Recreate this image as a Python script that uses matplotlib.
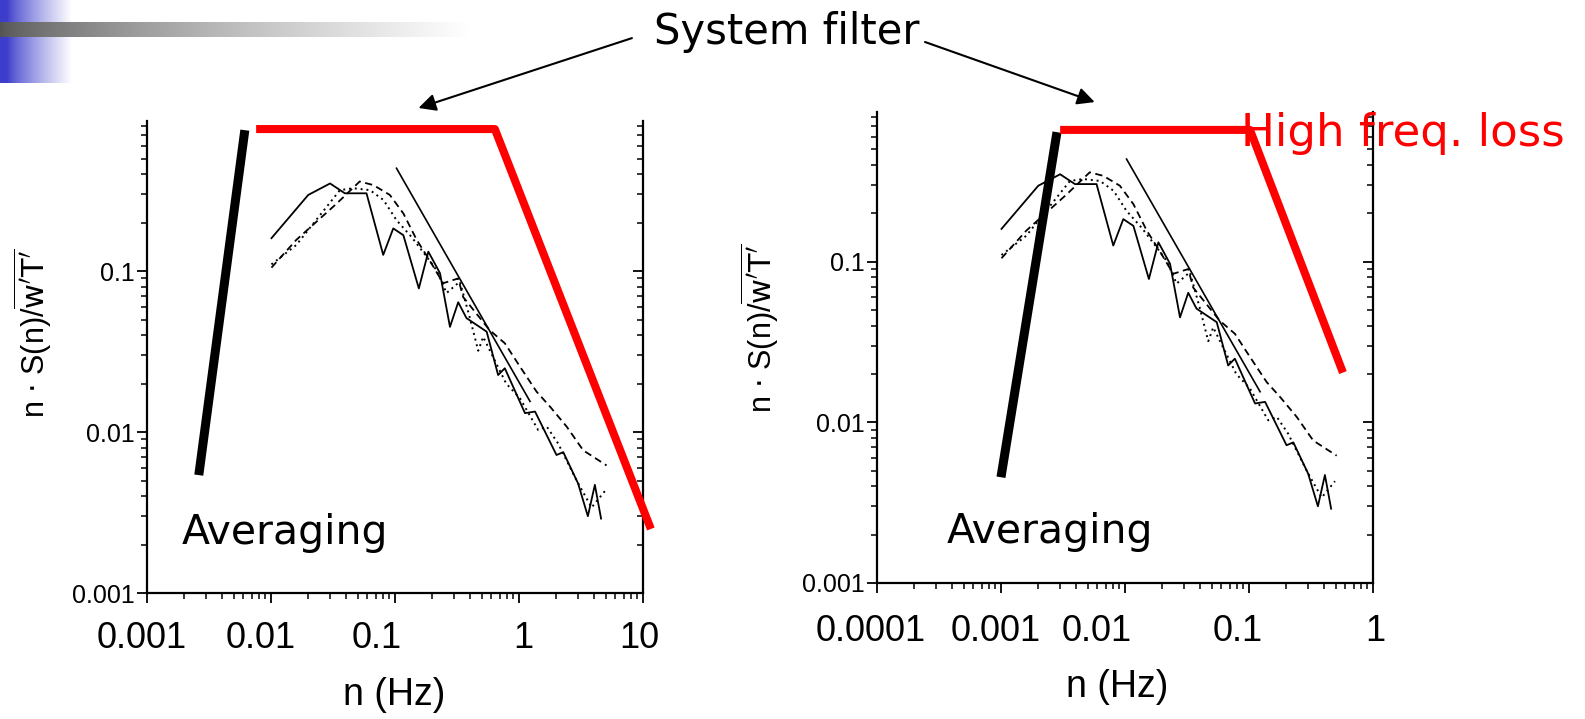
import matplotlib
matplotlib.use("Agg")
import matplotlib.pyplot as plt
import numpy as np
from matplotlib import font_manager
from matplotlib.ticker import LogLocator, NullFormatter, FixedLocator
from matplotlib.transforms import blended_transform_factory, ScaledTranslation

# ---- spectra (n in Hz, n*S(n)/w'T') ----
freq_solid = [0.0101, 0.020, 0.030, 0.0395, 0.059, 0.0805, 0.097, 0.117, 0.156, 0.186,
              0.231, 0.278, 0.324, 0.378, 0.55, 0.68, 0.77, 1.12, 1.35, 2.01,
              2.28, 3.0, 3.6, 4.1, 4.6]
spec_solid = [0.16, 0.297, 0.35, 0.304, 0.304, 0.126, 0.184, 0.167, 0.078, 0.132,
              0.097, 0.045, 0.064, 0.051, 0.042, 0.0226, 0.0249, 0.0131, 0.0134, 0.0072,
              0.0075, 0.0048, 0.0030, 0.0047, 0.0029]

freq_dash = [0.0101, 0.016, 0.034, 0.052, 0.067, 0.091, 0.117, 0.15, 0.19, 0.245,
             0.324, 0.355, 0.58, 0.77, 1.02, 1.39, 1.78, 2.43, 3.3, 5.1]
spec_dash = [0.105, 0.156, 0.263, 0.36, 0.342, 0.297, 0.228, 0.156, 0.117, 0.084,
             0.09, 0.069, 0.043, 0.0356, 0.0255, 0.0178, 0.0144, 0.0108, 0.0077, 0.0062]

freq_dot = [0.0101, 0.016, 0.036, 0.046, 0.063, 0.081, 0.103, 0.136, 0.18, 0.217,
            0.261, 0.334, 0.40, 0.47, 0.515, 0.79, 1.02, 1.43, 1.68, 2.07,
            2.92, 3.86, 4.94]
spec_dot = [0.11, 0.145, 0.318, 0.327, 0.318, 0.276, 0.207, 0.163, 0.123, 0.101,
            0.073, 0.086, 0.052, 0.032, 0.039, 0.020, 0.0162, 0.0103, 0.0108, 0.0085,
            0.005, 0.0034, 0.0043]

ref_freq = [0.103, 1.23]
ref_spec = [0.435, 0.0155]

# ---- same spectra on the right panel, frequency axis one decade lower ----
freq_solid_r = [0.00101, 0.0020, 0.0030, 0.00395, 0.0059, 0.00805, 0.0097, 0.0117, 0.0156, 0.0186,
                0.0231, 0.0278, 0.0324, 0.0378, 0.055, 0.068, 0.077, 0.112, 0.135, 0.201,
                0.228, 0.30, 0.36, 0.41, 0.46]
freq_dash_r = [0.00101, 0.0016, 0.0034, 0.0052, 0.0067, 0.0091, 0.0117, 0.015, 0.019, 0.0245,
               0.0324, 0.0355, 0.058, 0.077, 0.102, 0.139, 0.178, 0.243, 0.33, 0.51]
freq_dot_r = [0.00101, 0.0016, 0.0036, 0.0046, 0.0063, 0.0081, 0.0103, 0.0136, 0.018, 0.0217,
              0.0261, 0.0334, 0.040, 0.047, 0.0515, 0.079, 0.102, 0.143, 0.168, 0.207,
              0.292, 0.386, 0.494]
ref_freq_r = [0.0103, 0.123]

# ---- overlay sketch lines (averaging / system filter) ----
avg_left_n = [0.00262, 0.00616]
avg_left_s = [0.0054, 0.75]
filt_left_n = [0.0076, 0.64, 11.6]
filt_left_s = [0.762, 0.762, 0.0025]

avg_right_n = [0.001, 0.00283]
avg_right_s = [0.00455, 0.64]
filt_right_n = [0.003, 0.102, 0.573]
filt_right_s = [0.661, 0.661, 0.0204]

xticks_left = [0.001, 0.01, 0.1, 1, 10]
xlabels_left = ["0.001", "0.01", "0.1", "1", "10"]
xticks_right = [0.0001, 0.001, 0.01, 0.1, 1]
xlabels_right = ["0.0001", "0.001", "0.01", "0.1", "1"]
yticks = [0.001, 0.01, 0.1]
ylabels = ["0.001", "0.01", "0.1"]

# hand-placed tick labels on the slide sit a little off the ticks (pixels)
xlabel_shift_left = [-5, -10, -18, 4, -4]
xlabel_shift_right = [-6, -5, -28, -11, 2]

names = {f.name for f in font_manager.fontManager.ttflist}
narrow = "Liberation Sans Narrow" if "Liberation Sans Narrow" in names else "Liberation Sans"
big_size = 33 if narrow == "Liberation Sans Narrow" else 26
slide_font = "DejaVu Sans"

fig = plt.figure(figsize=(15.85, 7.19), dpi=100)

# slide decoration in the top-left corner
bg = fig.add_axes([0, 0, 1, 1], zorder=-10)
t = np.linspace(0, 1, 200)
blue = np.array([0.24, 0.24, 0.80])
fade = np.clip((t - 0.1) / 0.9, 0, 1)[:, None] ** 0.8
img = blue * (1 - fade) + fade
bg.imshow(img[None, :, :], extent=(0, 72, 83, 0), aspect="auto")
gray = np.array([0.33, 0.33, 0.33])
fade2 = (t ** 0.7)[:, None]
img2 = gray * (1 - fade2) + fade2
bg.imshow(img2[None, :, :], extent=(0, 470, 37, 22), aspect="auto")
bg.set_xlim(0, 1585)
bg.set_ylim(719, 0)
bg.axis("off")


def setup_axes(ax, xticks, xlabels, shifts, xlim, label_y):
    ax.set_xscale("log")
    ax.set_yscale("log")
    ax.set_xlim(*xlim)
    ax.set_ylim(0.001, 0.855)
    ax.spines["top"].set_visible(False)
    ax.spines["right"].set_visible(False)
    for s in ["left", "bottom"]:
        ax.spines[s].set_linewidth(1.6)
    ax.xaxis.set_major_locator(FixedLocator(xticks))
    ax.xaxis.set_minor_locator(LogLocator(subs=np.arange(2, 10)))
    ax.xaxis.set_minor_formatter(NullFormatter())
    ax.set_yticks(yticks, ylabels)
    ax.yaxis.set_minor_locator(LogLocator(subs=np.arange(2, 10)))
    ax.yaxis.set_minor_formatter(NullFormatter())
    ax.tick_params(which="major", direction="out", length=7, width=1.3)
    ax.tick_params(which="minor", direction="out", length=4.5, width=1.1)
    ax.tick_params(axis="x", labelbottom=False)
    ax.tick_params(axis="y", which="major", pad=2, labelsize=18,
                   labelfontfamily="Liberation Sans")
    sec = ax.secondary_yaxis("right")
    sec.spines["right"].set_linewidth(1.6)
    sec.tick_params(which="major", direction="in", length=7, width=1.3, labelright=False)
    sec.tick_params(which="minor", direction="in", length=4.5, width=1.1, labelright=False)
    sec.yaxis.set_minor_formatter(NullFormatter())
    # frequency labels, as text under each decade tick
    tr = blended_transform_factory(ax.transData, ax.transAxes)
    for xv, lab, dx in zip(xticks, xlabels, shifts):
        ax.text(xv, label_y, lab, ha="center", va="center", fontsize=big_size, family=narrow,
                transform=tr + ScaledTranslation(dx / 100, 0, fig.dpi_scale_trans))


ax1 = fig.add_axes([0.0927, 0.1752, 0.3129, 0.6565])
ax2 = fig.add_axes([0.5533, 0.1892, 0.3129, 0.6551])

panels = [
    (ax1, freq_solid, freq_dash, freq_dot, ref_freq, xticks_left, xlabels_left,
     xlabel_shift_left, (0.001, 10), -0.097),
    (ax2, freq_solid_r, freq_dash_r, freq_dot_r, ref_freq_r, xticks_right, xlabels_right,
     xlabel_shift_right, (0.0001, 1), -0.104),
]
for ax, fs, fd, fo, fr, xt, xl, sh, xlim, ly in panels:
    ax.plot(fs, spec_solid, color="black", lw=1.3)
    ax.plot(fd, spec_dash, color="black", lw=1.3, ls=(0, (4, 2.5)))
    ax.plot(fo, spec_dot, color="black", lw=1.4, ls=(0, (1, 2)))
    ax.plot(fr, ref_spec, color="black", lw=1.2)
    setup_axes(ax, xt, xl, sh, xlim, ly)

ylab = r"n $\cdot$ S(n)/$\overline{\mathrm{w'T'}}$"
ax1.text(-0.23, 0.551, ylab, transform=ax1.transAxes, rotation=90, ha="center",
         va="center", fontsize=22, family="Liberation Sans")
ax2.text(-0.236, 0.541, ylab, transform=ax2.transAxes, rotation=90, ha="center",
         va="center", fontsize=22, family="Liberation Sans")

ax1.text(0.498, -0.216, "n (Hz)", transform=ax1.transAxes, ha="center", va="center",
         fontsize=big_size + 1, family=narrow)
ax2.text(0.484, -0.221, "n (Hz)", transform=ax2.transAxes, ha="center", va="center",
         fontsize=big_size + 1, family=narrow)

# overlay sketch
ax1.plot(avg_left_n, avg_left_s, color="black", lw=6.5, solid_capstyle="butt", clip_on=False, zorder=5)
ax1.plot(filt_left_n, filt_left_s, color="#ff0000", lw=5.8, solid_capstyle="butt", clip_on=False, zorder=5)
ax2.plot(avg_right_n, avg_right_s, color="black", lw=6.5, solid_capstyle="butt", clip_on=False, zorder=5)
ax2.plot(filt_right_n, filt_right_s, color="#ff0000", lw=5.8, solid_capstyle="butt", clip_on=False, zorder=5)

ax1.text(0.0019, 0.00236, "Averaging", ha="left", va="center", fontsize=29.5, family=slide_font)
ax2.text(0.000367, 0.00207, "Averaging", ha="left", va="center", fontsize=29.5, family=slide_font)
ax2.text(0.086, 0.624, "High freq. loss", ha="left", va="center", fontsize=32.5,
         family=slide_font, color="#ff0000", clip_on=False)

fig.text(0.4965, 0.9555, "System filter", ha="center", va="center", fontsize=30, family=slide_font)
arrow = dict(arrowstyle="-|>", color="black", lw=1.5, mutation_scale=26, shrinkA=0, shrinkB=0)
ax1.annotate("", xy=(0.155, 1.03), xycoords="data", xytext=(0.3987, 0.947),
             textcoords="figure fraction", arrowprops=arrow, annotation_clip=False)
ax2.annotate("", xy=(0.0057, 0.985), xycoords="data", xytext=(0.5836, 0.9416),
             textcoords="figure fraction", arrowprops=arrow, annotation_clip=False)

fig.savefig("out.png", dpi=100)
